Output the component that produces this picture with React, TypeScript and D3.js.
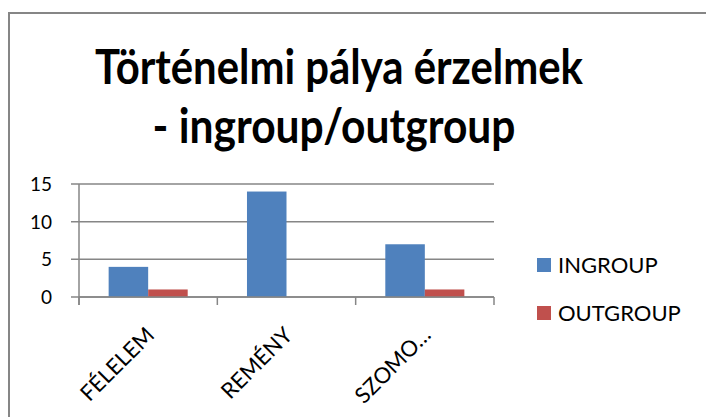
import React from "react";
import * as d3 from "d3";

const categories = ["FÉLELEM", "REMÉNY", "SZOMO…"];
const seriesNames = ["INGROUP", "OUTGROUP"];
const ingroup = [4, 14, 7];
const outgroup = [1, 0, 1];
const yTicks = [0, 5, 10, 15];
const titleLines = ["Történelmi pálya érzelmek", "- ingroup/outgroup"];
const colors = ["#4F81BD", "#C0504D"];

const W = 706;
const H = 417;
const FONT = "Lato, 'Open Sans', sans-serif";

export default function App() {
  const plotLeft = 79;
  const plotRight = 494;
  const y = d3.scaleLinear().domain([0, 15]).range([297, 184]);
  const x0 = d3.scaleBand<string>().domain(categories).range([plotLeft, plotRight]).padding(0);
  const x1 = d3
    .scaleBand<string>()
    .domain(seriesNames)
    .range([0, x0.bandwidth()])
    .paddingInner(0)
    .paddingOuter(0.75);
  const values = [ingroup, outgroup];
  const grid = "#868686";
  const boundaries = categories.map((c) => x0(c) as number).concat([plotRight]);

  return (
    <svg
      width={W}
      height={H}
      style={{ position: "absolute", left: 0, top: 0, background: "#fff" }}
      fontFamily={FONT}
    >
      <rect x={0} y={0} width={W} height={H} fill="#fff" />
      <rect x={9} y={13} width={W + 20} height={H + 20} fill="none" stroke={grid} strokeWidth={2} />
      {titleLines.map((t, i) => (
        <text
          key={i}
          x={i === 0 ? 339 : 334}
          y={i === 0 ? 84 : 143}
          textAnchor="middle"
          fontWeight="bold"
          fontSize={47}
          fill="#000"
          textLength={i === 0 ? 488 : 363}
          lengthAdjust="spacingAndGlyphs"
        >
          {t}
        </text>
      ))}
      {yTicks.map((t) => (
        <g key={t}>
          <line x1={plotLeft - 8} x2={plotRight} y1={y(t)} y2={y(t)} stroke={grid} strokeWidth={1.5} />
          <text x={52} y={y(t)} dy="0.36em" textAnchor="end" fontSize={19} fill="#000">
            {t}
          </text>
        </g>
      ))}
      <line x1={plotLeft} x2={plotLeft} y1={y(15)} y2={y(0) + 8} stroke={grid} strokeWidth={1.5} />
      {boundaries.map((b, i) => (
        <line key={i} x1={b} x2={b} y1={y(0)} y2={y(0) + 8} stroke={grid} strokeWidth={1.5} />
      ))}
      {categories.map((c, ci) =>
        seriesNames.map((s, si) => {
          const v = values[si][ci];
          const bx = (x0(c) as number) + (x1(s) as number);
          return (
            <rect
              key={c + s}
              x={bx}
              y={y(v)}
              width={x1.bandwidth()}
              height={y(0) - y(v)}
              fill={colors[si]}
            />
          );
        })
      )}
      <line x1={plotLeft} x2={plotRight} y1={y(0)} y2={y(0)} stroke={grid} strokeWidth={1.5} />
      {categories.map((c) => {
        const cx = (x0(c) as number) + x0.bandwidth() / 2;
        return (
          <text
            key={c}
            transform={`translate(${cx + 2},${331}) rotate(-45)`}
            dy="0.35em"
            textAnchor="end"
            fontSize={22}
            fill="#000"
          >
            {c}
          </text>
        );
      })}
      {seriesNames.map((s, i) => {
        const cy = 265 + i * 48;
        return (
          <g key={s}>
            <rect x={537} y={cy - 7} width={14} height={14} fill={colors[i]} />
            <text x={558} y={cy} dy="0.36em" fontSize={22} fill="#000">
              {s}
            </text>
          </g>
        );
      })}
    </svg>
  );
}
